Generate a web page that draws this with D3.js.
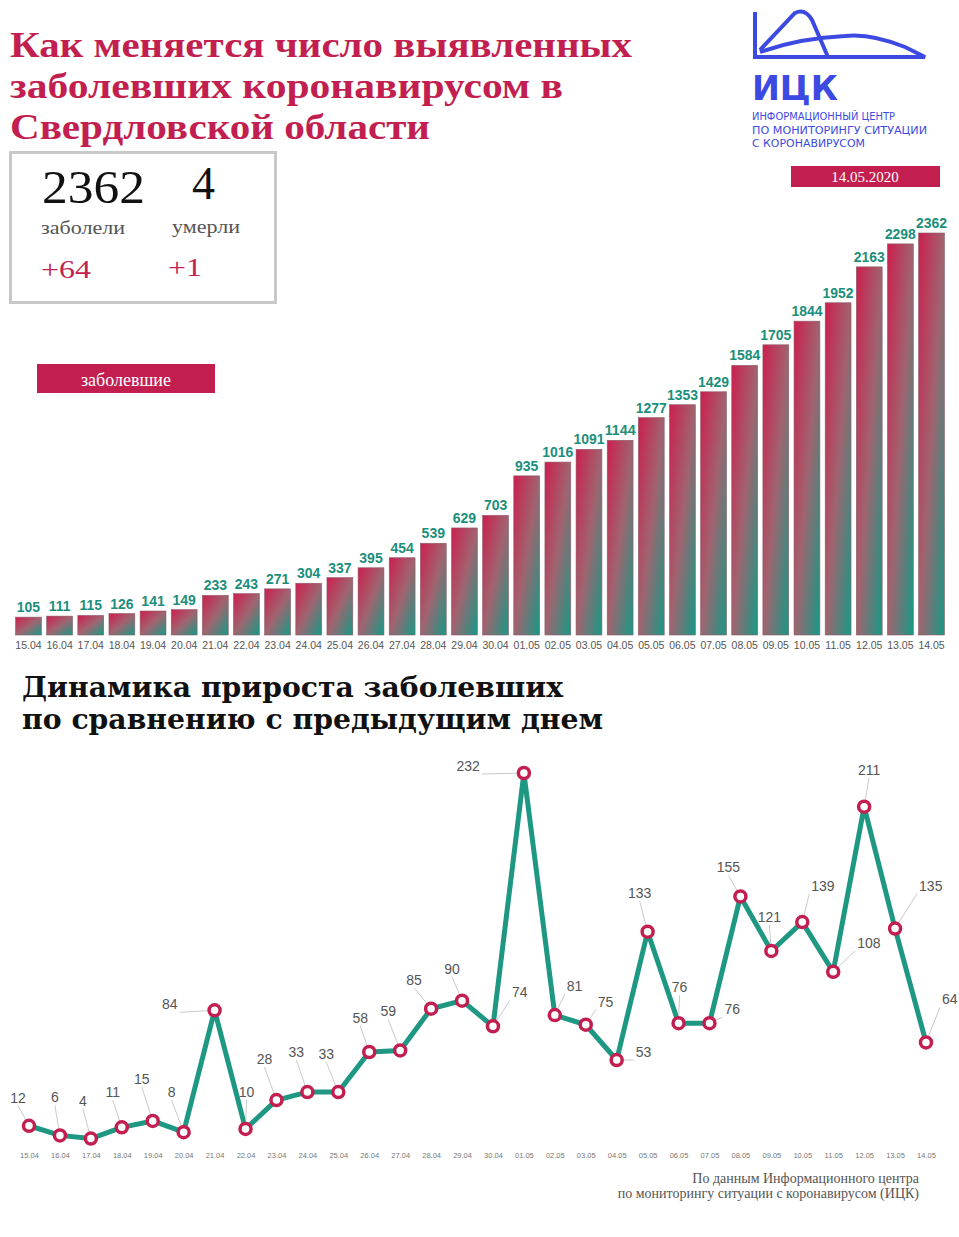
<!DOCTYPE html>
<html><head><meta charset="utf-8">
<script src="https://cdn.jsdelivr.net/npm/d3@7"></script>
<style>body{margin:0;background:#fff}svg{display:block}</style>
</head><body>
<script>
const dates = ["15.04","16.04","17.04","18.04","19.04","20.04","21.04","22.04","23.04","24.04","25.04","26.04","27.04","28.04","29.04","30.04","01.05","02.05","03.05","04.05","05.05","06.05","07.05","08.05","09.05","10.05","11.05","12.05","13.05","14.05"];
const totals = [105,111,115,126,141,149,233,243,271,304,337,395,454,539,629,703,935,1016,1091,1144,1277,1353,1429,1584,1705,1844,1952,2163,2298,2362];
const increments = [12,6,4,11,15,8,84,10,28,33,33,58,59,85,90,74,232,81,75,53,133,76,76,155,121,139,108,211,135,64];
// label placement offsets (layout only)
const labelOffsets = [[-11,-20],[-5,-30],[-8,-30],[-9,-27],[-11,-34],[-12,-32],[-35,2],[1,-29],[-12,-33],[-11,-32],[-12,-30],[-9,-26],[-12,-31],[-17,-21],[-10,-24],[17,-26],[-42,1],[10,-21],[10,-15],[17,0],[-8,-31],[1,-28],[13,-6],[-12,-21],[-2,-26],[7,-28],[22,-21],[5,-29],[22,-35],[14,-35]];

const W=959,H=1237;
const svg=d3.select("body").append("svg").attr("width",W).attr("height",H);
const defs=svg.append("defs");
const g=defs.append("linearGradient").attr("id","bg").attr("x1","0").attr("y1","0").attr("x2","1").attr("y2","1");
g.append("stop").attr("offset","0").attr("stop-color","#cc1f4e");
g.append("stop").attr("offset","0.5").attr("stop-color","#a06470");
g.append("stop").attr("offset","1").attr("stop-color","#159a86");
const crimson="#c21f50", teal="#1b8f7b";

const tl=["Как меняется число выявленных","заболевших коронавирусом в","Свердловской области"];
const tw=[622,553,420];
tl.forEach((t,i)=>svg.append("text").attr("x",10).attr("y",57+i*41).text(t)
  .attr("font-family","Liberation Serif, serif").attr("font-weight","bold").attr("font-size",35)
  .attr("fill",crimson).attr("textLength",tw[i]).attr("lengthAdjust","spacingAndGlyphs"));

const blue="#3d4ae2";
const lg=svg.append("g").attr("fill","none").attr("stroke",blue).attr("stroke-width",4);
lg.append("path").attr("d","M755,12 V57 H925 L905,47 Q870,33 845,36 Q800,38 760,52");
lg.append("path").attr("d","M760,50 L795,13 Q805,8 812,20 L828,57");
svg.append("text").attr("x",752).attr("y",100).text("ИЦК").attr("font-family","DejaVu Sans, sans-serif")
  .attr("font-weight","bold").attr("font-size",34).attr("fill",blue).attr("textLength",86).attr("lengthAdjust","spacingAndGlyphs");
["ИНФОРМАЦИОННЫЙ ЦЕНТР","ПО МОНИТОРИНГУ СИТУАЦИИ","С КОРОНАВИРУСОМ"].forEach((t,i)=>
  svg.append("text").attr("x",752).attr("y",120+i*13.5).text(t).attr("font-family","DejaVu Sans Condensed, sans-serif")
  .attr("font-size",11).attr("fill",blue).attr("textLength",[143,175,113][i]).attr("lengthAdjust","spacingAndGlyphs"));
svg.append("rect").attr("x",791).attr("y",166).attr("width",149).attr("height",21).attr("fill",crimson);
svg.append("text").attr("x",865).attr("y",182).attr("text-anchor","middle").text("14.05.2020")
  .attr("font-family","Liberation Serif, serif").attr("font-size",15).attr("fill","#fff");

svg.append("rect").attr("x",10.5).attr("y",152.5).attr("width",265).attr("height",150).attr("fill","#fff").attr("stroke","#c8c8c8").attr("stroke-width",3);
const st=(x,y,t,s,c,L)=>{const e=svg.append("text").attr("x",x).attr("y",y).text(t).attr("font-family","Liberation Serif, serif").attr("font-size",s).attr("fill",c);
  if(L) e.attr("textLength",L).attr("lengthAdjust","spacingAndGlyphs");};
st(42,203,"2362",46,"#111",103); st(192,199,"4",46,"#111");
st(41,234,"заболели",19,"#555",84); st(172,233,"умерли",19,"#555",68);
st(41,278,"+64",25,crimson,50); st(168,276,"+1",25,crimson,34);

svg.append("rect").attr("x",37).attr("y",364).attr("width",178).attr("height",29).attr("fill",crimson);
svg.append("text").attr("x",126).attr("y",386).attr("text-anchor","middle").text("заболевшие")
  .attr("font-family","Liberation Serif, serif").attr("font-size",18).attr("fill","#fff");

const x=d3.scaleBand().domain(dates).range([14,946]).paddingInner(0.17).paddingOuter(0.05);
const y=d3.scaleLinear().domain([0,2362]).range([635,233]);
svg.append("g").selectAll("rect").data(totals).join("rect")
  .attr("x",(d,i)=>x(dates[i])).attr("y",d=>y(d)).attr("width",x.bandwidth()).attr("height",d=>635-y(d))
  .attr("fill","url(#bg)").attr("stroke","#8a5b66").attr("stroke-width",0.6);
svg.append("g").selectAll("text").data(totals).join("text")
  .attr("x",(d,i)=>x(dates[i])+x.bandwidth()/2).attr("y",d=>y(d)-5).attr("text-anchor","middle")
  .text(d=>d).attr("font-family","Liberation Sans, sans-serif").attr("font-weight","bold")
  .attr("font-size",14).attr("fill",teal)
  .each(function(d){ if(d>=1000) d3.select(this).attr("textLength",31).attr("lengthAdjust","spacingAndGlyphs"); });
const xa=svg.append("g").attr("transform","translate(0,636)").call(d3.axisBottom(x).tickSize(0).tickPadding(6));
xa.select(".domain").remove();
xa.selectAll("text").attr("font-family","Liberation Sans, sans-serif").attr("font-size",10.5).attr("fill","#555");

["Динамика прироста заболевших","по сравнению с предыдущим днем"].forEach((t,i)=>
  svg.append("text").attr("x",22).attr("y",697+i*32).text(t).attr("font-family","DejaVu Serif, serif")
  .attr("font-weight","bold").attr("font-size",28).attr("fill","#111").attr("textLength",[541,581][i]).attr("lengthAdjust","spacingAndGlyphs"));

const x2=d3.scalePoint().domain(dates).range([29,926]);
const y2=d3.scaleLinear().domain([0,232]).range([1145,773]);
svg.append("path").datum(increments).attr("fill","none").attr("stroke","#1e9882").attr("stroke-width",5).attr("stroke-linejoin","round")
  .attr("d",d3.line().x((d,i)=>x2(dates[i])).y(d=>y2(d)));
const lbl=svg.append("g");
increments.forEach((d,i)=>{
  const px=x2(dates[i]), py=y2(d), o=labelOffsets[i];
  const lx=px+o[0], ly=py+o[1];
  lbl.append("line").attr("x1",px).attr("y1",py).attr("x2",lx).attr("y2",ly).attr("stroke","#bbb").attr("stroke-width",0.8);
  lbl.append("text").attr("x",lx+(o[0]>5?2:o[0]<-20?-2:0)).attr("y",ly-3).attr("text-anchor",o[0]>5?"start":o[0]<-20?"end":"middle")
    .text(d).attr("font-family","Liberation Sans, sans-serif").attr("font-size",14).attr("fill","#555");
});
svg.append("g").selectAll("circle").data(increments).join("circle")
  .attr("cx",(d,i)=>x2(dates[i])).attr("cy",d=>y2(d)).attr("r",5.5).attr("fill","#fff").attr("stroke",crimson).attr("stroke-width",3.5);
const xa2=svg.append("g").attr("transform","translate(0,1150)").call(d3.axisBottom(x2).tickSize(0).tickPadding(3));
xa2.select(".domain").remove();
xa2.selectAll("text").attr("font-family","Liberation Sans, sans-serif").attr("font-size",7.5).attr("fill","#777");

["По данным Информационного центра","по мониторингу ситуации с коронавирусом (ИЦК)"].forEach((t,i)=>
  svg.append("text").attr("x",919).attr("y",1183+i*15).attr("text-anchor","end").text(t)
  .attr("font-family","Liberation Serif, serif").attr("font-size",14).attr("fill","#555"));
</script>
</body></html>
